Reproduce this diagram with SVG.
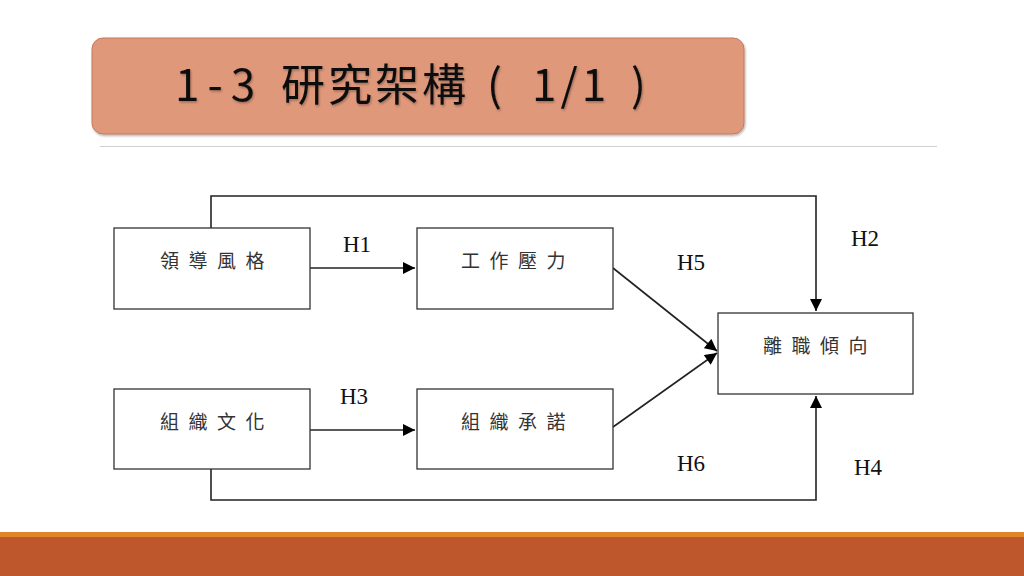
<svg xmlns="http://www.w3.org/2000/svg" width="1024" height="576" viewBox="0 0 1024 576">
<defs>
<marker id="ahs" viewBox="0 0 10 10" refX="10" refY="5" markerWidth="13" markerHeight="12" markerUnits="userSpaceOnUse" orient="auto">
<path d="M0,0 L10,5 L0,10 z" fill="#000"/>
</marker>
<filter id="sh" x="-5%" y="-5%" width="110%" height="115%">
<feDropShadow dx="1" dy="1.5" stdDeviation="1" flood-color="#000" flood-opacity="0.3"/>
</filter>
<filter id="tsh" x="-5%" y="-10%" width="110%" height="130%">
<feDropShadow dx="1" dy="1.5" stdDeviation="0.8" flood-color="#000" flood-opacity="0.3"/>
</filter>
</defs>
<style>
.box{fill:#fff;stroke:#333;stroke-width:1.3}
.lbl{font-family:"Noto Sans CJK TC","Noto Sans CJK SC",sans-serif;font-size:19px;fill:#333;text-anchor:middle;letter-spacing:9.5px}
.h{font-family:"Liberation Serif",serif;font-size:23px;fill:#111;text-anchor:middle}
.c{fill:none;stroke:#222;stroke-width:1.6}
</style>
<rect width="1024" height="576" fill="#fff"/>
<g id="title">
<rect x="92" y="38" width="652" height="96" rx="11" ry="11" fill="#DF987A" stroke="#C47A5A" stroke-width="1" filter="url(#sh)"/>
<text y="101" font-family="'Noto Sans CJK TC','Noto Sans CJK SC',sans-serif" font-size="44" fill="#111" filter="url(#tsh)"><tspan x="175" letter-spacing="8">1-3</tspan><tspan x="281" letter-spacing="3">研究架構</tspan><tspan x="487">(</tspan><tspan x="532" letter-spacing="4">1/1</tspan><tspan x="631">)</tspan></text>
</g>
<line x1="100" y1="146.5" x2="937" y2="146.5" stroke="#d0d0d0" stroke-width="1"/>
<g id="connectors">
<path class="c" d="M211,228 V196 H816 V311" marker-end="url(#ahs)"/>
<path class="c" d="M211,469 V500 H816 V396" marker-end="url(#ahs)"/>
<line class="c" x1="310" y1="268" x2="415" y2="268" marker-end="url(#ahs)"/>
<line class="c" x1="310" y1="430" x2="415" y2="430" marker-end="url(#ahs)"/>
<line class="c" x1="613" y1="268" x2="717" y2="351" marker-end="url(#ahs)"/>
<line class="c" x1="613" y1="427" x2="717" y2="353" marker-end="url(#ahs)"/>
</g>
<g id="labels">
<text class="h" x="357" y="252">H1</text>
<text class="h" x="865" y="246">H2</text>
<text class="h" x="354" y="404">H3</text>
<text class="h" x="868" y="475">H4</text>
<text class="h" x="691" y="270">H5</text>
<text class="h" x="691" y="471">H6</text>
</g>
<g id="n1"><rect class="box" x="114" y="228" width="196" height="81"/><text class="lbl" x="217" y="268">領導風格</text></g>
<g id="n2"><rect class="box" x="417" y="228" width="196" height="81"/><text class="lbl" x="518" y="268">工作壓力</text></g>
<g id="n3"><rect class="box" x="114" y="389" width="196" height="80"/><text class="lbl" x="217" y="429">組織文化</text></g>
<g id="n4"><rect class="box" x="417" y="389" width="196" height="80"/><text class="lbl" x="518" y="429">組織承諾</text></g>
<g id="n5"><rect class="box" x="718" y="313" width="195" height="81"/><text class="lbl" x="820" y="353">離職傾向</text></g>
<rect x="0" y="532" width="1024" height="5" fill="#E0862A"/>
<rect x="0" y="537" width="1024" height="39" fill="#BE572B"/>
</svg>
